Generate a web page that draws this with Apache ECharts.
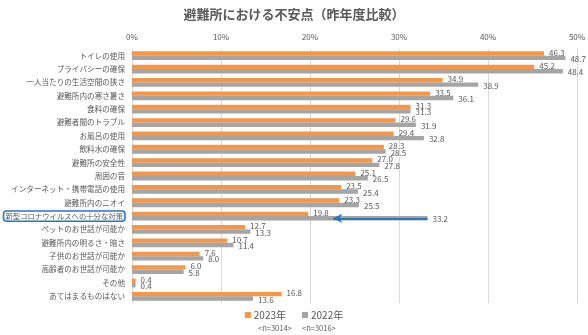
<!DOCTYPE html>
<html>
<head>
<meta charset="utf-8">
<script src="https://cdn.jsdelivr.net/npm/echarts@6/dist/echarts.min.js"></script>
<style>
  html, body { margin: 0; padding: 0; background: #fff; }
  #chart { width: 588px; height: 335px; }
</style>
</head>
<body>
<div id="chart"></div>
<script>
// 避難所における不安点（2023年 vs 2022年）
const categories = [
  'トイレの使用',
  'プライバシーの確保',
  '一人当たりの生活空間の狭さ',
  '避難所内の寒さ暑さ',
  '食料の確保',
  '避難者間のトラブル',
  'お風呂の使用',
  '飲料水の確保',
  '避難所の安全性',
  '周囲の音',
  'インターネット・携帯電話の使用',
  '避難所内のニオイ',
  '新型コロナウイルスへの十分な対策',
  'ペットのお世話が可能か',
  '避難所内の明るさ・暗さ',
  '子供のお世話が可能か',
  '高齢者のお世話が可能か',
  'その他',
  'あてはまるものはない'
];
const values2023 = [46.3, 45.2, 34.9, 33.5, 31.3, 29.6, 29.4, 28.3, 27.0, 25.1, 23.5, 23.3, 19.8, 12.7, 10.7, 7.6, 6.0, 0.4, 16.8];
const values2022 = [48.7, 48.4, 38.9, 36.1, 31.3, 31.9, 32.8, 28.5, 27.8, 26.5, 25.4, 25.5, 33.2, 13.3, 11.4, 8.0, 5.8, 0.4, 13.6];
const seriesNames = ['2023年', '2022年'];
const sampleSizes = ['<n=3014>', '<n=3016>'];
const xTicks = [0, 10, 20, 30, 40, 50];
const highlighted = '新型コロナウイルスへの十分な対策';
// arrow runs from the 2022 bar end back toward the 2023 value label
const arrowFrom = 33.2;
const arrowTo = 22.6;

const FONT = '"Noto Sans CJK JP", "Noto Sans", sans-serif';
const TEXT = '#595959';
const ORANGE = '#F79646';
const GRAY = '#A5A5A5';
const BLUE = '#2E75B6';

const chart = echarts.init(document.getElementById('chart'));

chart.setOption({
  animation: false,
  textStyle: { fontFamily: FONT },
  title: {
    text: '避難所における不安点（昨年度比較）',
    left: 'center',
    top: 3,
    textStyle: { fontSize: 13, fontWeight: 'bold', color: TEXT, fontFamily: FONT }
  },
  grid: { left: 132, right: 11, top: 49, bottom: 32, containLabel: false, outerBoundsMode: 'none' },
  xAxis: {
    type: 'value',
    position: 'top',
    min: xTicks[0],
    max: xTicks[xTicks.length - 1],
    interval: 10,
    axisLine: { show: false },
    axisTick: { show: false },
    axisLabel: { formatter: '{value}%', color: TEXT, fontSize: 8, margin: 8, fontFamily: FONT },
    splitLine: { show: true, lineStyle: { color: '#D9D9D9', width: 1 } }
  },
  yAxis: {
    type: 'category',
    inverse: true,
    data: categories,
    axisLine: { show: false },
    axisTick: { show: false },
    axisLabel: {
      color: TEXT,
      fontSize: 7.6,
      margin: 7,
      fontFamily: FONT,
      formatter: function (v) {
        return v === highlighted ? '{hl|' + v + '}' : v;
      },
      rich: {
        hl: {
          color: TEXT,
          fontSize: 7.35,
          fontFamily: FONT,
          borderColor: BLUE,
          borderWidth: 1.6,
          borderRadius: 3,
          padding: [2, 2, 1, 2]
        }
      }
    }
  },
  legend: {
    bottom: 10,
    left: 'center',
    itemWidth: 6,
    itemHeight: 6,
    itemGap: 16,
    icon: 'rect',
    textStyle: { color: TEXT, fontSize: 10, fontFamily: FONT, padding: [0, 0, 0, -2] },
    data: seriesNames
  },
  graphic: [
    { type: 'text', left: 258, top: 324, style: { text: sampleSizes[0], fill: TEXT, font: '7.5px ' + FONT } },
    { type: 'text', left: 302, top: 324, style: { text: sampleSizes[1], fill: TEXT, font: '7.5px ' + FONT } }
  ],
  series: [
    {
      name: seriesNames[0],
      type: 'bar',
      data: values2023,
      barWidth: 4.4,
      barGap: '0%',
      itemStyle: { color: ORANGE },
      label: {
        show: true,
        position: 'right',
        distance: 5,
        offset: [0, -1],
        formatter: p => p.value.toFixed(1),
        color: TEXT,
        fontSize: 8,
        fontFamily: FONT
      }
    },
    {
      name: seriesNames[1],
      type: 'bar',
      data: values2022,
      barWidth: 4.4,
      barGap: '0%',
      itemStyle: { color: GRAY },
      label: {
        show: true,
        position: 'right',
        distance: 5,
        offset: [0, 1],
        formatter: p => p.value.toFixed(1),
        color: TEXT,
        fontSize: 8,
        fontFamily: FONT
      },
      markLine: {
        silent: true,
        symbol: ['none', 'arrow'],
        symbolSize: [7, 9],
        label: { show: false },
        lineStyle: { color: BLUE, width: 2, type: 'solid' },
        data: [[
          { coord: [arrowFrom, highlighted] },
          { coord: [arrowTo, highlighted] }
        ]]
      }
    }
  ]
});
</script>
</body>
</html>
